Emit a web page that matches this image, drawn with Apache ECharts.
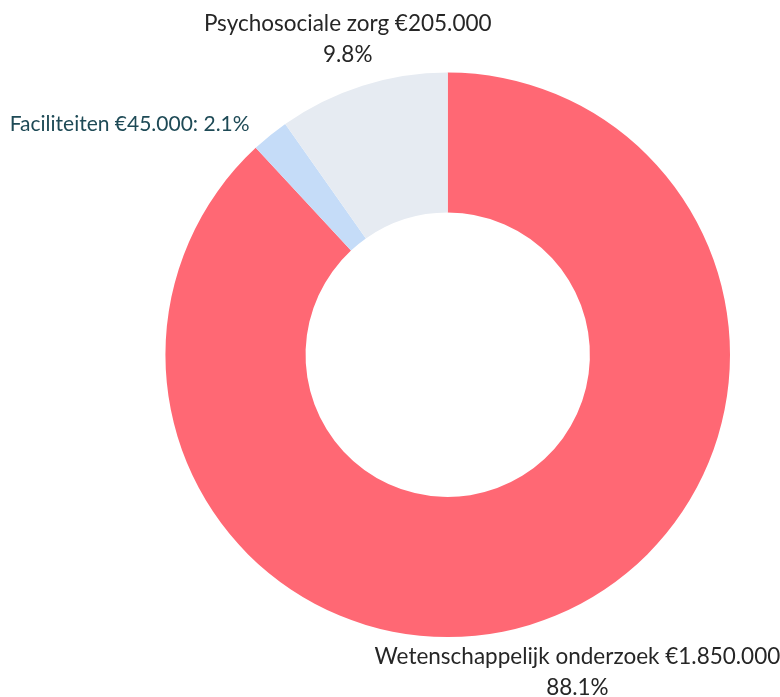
<!DOCTYPE html>
<html>
<head>
<meta charset="utf-8">
<script src="https://cdn.jsdelivr.net/npm/echarts@6/dist/echarts.min.js"></script>
<style>
  html, body { margin: 0; padding: 0; background: #fff; }
  #chart { width: 780px; height: 697px; }
</style>
</head>
<body>
<div id="chart"></div>
<script>
// bestedingen (euro)
const categories = ['Wetenschappelijk onderzoek', 'Faciliteiten', 'Psychosociale zorg'];
const amounts = [1850000, 45000, 205000];
const colors = ['#ff6874', '#c5dcf8', '#e6ebf2'];

function euro(v) {
    return '€' + String(v).replace(/\B(?=(\d{3})+(?!\d))/g, '.');
}

// afstand label tot de ring, per segment
const lineLen = [59, 15, 49];
const lineLen2 = [0, 6, -5];

const chart = echarts.init(document.getElementById('chart'));

const data = categories.map((name, i) => {
    const item = {
        name, value: amounts[i],
        itemStyle: { color: colors[i] },
        labelLine: { show: false, length: lineLen[i], length2: lineLen2[i] }
    };
    if (name === 'Faciliteiten') {
        item.label = { color: '#1e4a56', fontSize: 21, formatter: p => p.name + ' ' + euro(p.value) + ': ' + p.percent + '%' };
    }
    return item;
});

chart.setOption({
    animation: false,
    series: [{
        type: 'pie',
        radius: ['40.8%', '81%'],
        center: ['57.4%', '50.9%'],
        startAngle: 90,
        percentPrecision: 1,
        avoidLabelOverlap: false,
        label: {
            show: true,
            position: 'outside',
            fontFamily: 'Lato',
            fontSize: 22.5,
            lineHeight: 31,
            color: '#262626',
            formatter: p => p.name + ' ' + euro(p.value) + '\n' + p.percent + '%'
        },
        labelLine: { show: false },
        labelLayout: p => p.dataIndex === 1 ? {} : { align: 'center' },
        data: data
    }]
});
</script>
</body>
</html>
